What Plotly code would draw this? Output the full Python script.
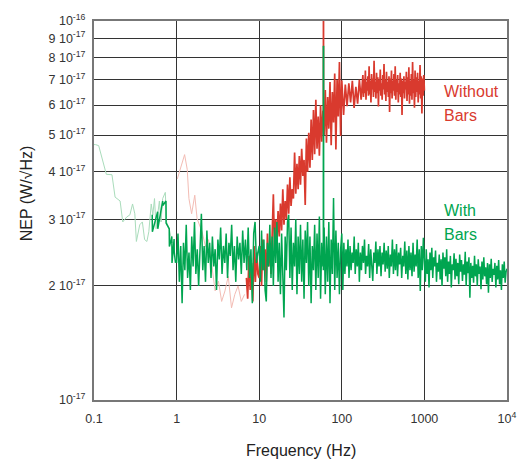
import numpy as np
import plotly.graph_objects as go

UNIT = 1e-17  # NEP values below are in units of 1e-17 W/sqrt(Hz)

# ---------------- "With Bars" (green) ----------------
# low-frequency portion, plotted in a pale tone
with_lf_freq = [0.100, 0.104, 0.114, 0.125, 0.141, 0.165, 0.180, 0.207, 0.223, 0.249,
                0.272, 0.293, 0.312, 0.326, 0.358, 0.385, 0.410, 0.437, 0.461, 0.493,
                0.515, 0.540, 0.565, 0.590, 0.619, 0.648, 0.678, 0.730, 0.755, 0.814,
                0.876, 0.933]
with_lf_nep = [4.72, 4.72, 4.69, 4.36, 3.94, 3.93, 3.43, 3.35, 2.95, 3.04,
               3.08, 3.29, 3.10, 2.62, 2.90, 2.95, 2.65, 2.62, 2.78, 3.29,
               3.08, 3.40, 2.83, 3.08, 3.35, 2.95, 3.40, 3.53, 2.95, 2.83,
               2.62, 2.57]

# short darker strokes just below 1 Hz
with_dark_freq = [0.507, 0.509, 0.590, 0.592, 0.678, 0.680, 0.744, 0.746, 0.814, 0.818,
                  0.876, 0.880, 0.933, 0.936, 0.97]
with_dark_nep = [3.08, 2.78, 3.14, 2.83, 3.35, 3.26, 3.35, 2.93, 2.83, 2.54,
                 2.70, 2.30, 2.66, 2.46, 2.30]

# main band, one list per decade
with_d1 = [2.30, 2.75, 2.05, 2.55, 1.80, 2.60, 2.20, 2.90, 2.10, 2.45,
           1.95, 2.70, 2.25, 2.95, 2.15, 2.50, 2.00, 2.65, 3.10, 2.20,
           2.55, 2.05, 2.80, 2.30, 2.60, 2.10, 2.70, 2.25, 2.50, 1.95,
           2.65, 2.35, 2.85, 2.15, 2.55, 2.30, 2.75, 2.10, 2.60, 2.40,
           2.90, 2.20, 2.55, 2.05, 2.70, 2.35, 2.60, 2.15, 2.80, 2.30,
           2.65, 2.20, 2.85, 2.10, 2.50, 1.80, 2.75, 2.95, 2.30, 2.45]
with_d2 = [2.55, 2.05, 2.80, 2.20, 2.65, 1.95, 1.82, 2.60, 2.25, 2.90,
           2.10, 2.70, 2.00, 2.85, 2.30, 2.95, 2.05, 2.60, 1.90, 2.75,
           2.15, 1.65, 2.70, 2.20, 2.95, 3.08, 2.10, 2.85, 1.95, 2.60,
           2.25, 3.00, 1.90, 2.70, 2.15, 2.90, 2.05, 2.65, 1.85, 2.80,
           2.30, 2.95, 2.00, 2.70, 1.80, 2.55, 2.20, 2.90, 1.95, 2.75,
           2.10, 3.05, 1.85, 2.60, 2.25, 2.85, 1.90, 2.70, 2.05, 2.95,
           1.80, 2.65, 2.15, 3.41, 1.95, 2.80, 2.10, 2.60, 1.90, 2.50]
with_d3 = [2.75, 1.95, 2.60, 2.15, 2.50, 2.25, 2.65, 2.10, 2.55, 2.20,
           2.45, 2.30, 2.70, 2.15, 2.50, 2.25, 2.60, 2.05, 2.45, 2.20,
           2.55, 2.30, 2.65, 2.15, 2.40, 2.25, 2.58, 2.10, 2.50, 2.20,
           2.06, 2.45, 2.30, 2.62, 2.15, 2.50, 2.25, 2.55, 2.12, 2.45,
           2.28, 2.60, 2.18, 2.48, 2.22, 2.55, 2.10, 2.42, 2.25, 2.65,
           2.15, 2.50, 2.20, 2.58, 2.12, 2.45, 2.28, 2.52, 2.10, 2.40,
           2.25, 2.62, 2.15, 2.48, 2.08, 2.55, 2.20, 2.45, 2.12, 2.60,
           2.18, 2.42, 2.25, 2.65, 2.10, 2.50, 1.94, 2.55, 2.20, 2.68]
with_d4 = [2.40, 2.05, 2.50, 2.15, 2.35, 1.98, 2.45, 2.20, 2.52, 2.10,
           2.38, 2.25, 2.48, 2.05, 2.30, 2.18, 2.42, 2.08, 2.35, 2.00,
           2.45, 2.22, 2.38, 2.12, 2.50, 2.05, 2.32, 2.15, 2.40, 1.98,
           2.28, 2.20, 2.44, 2.08, 2.36, 2.12, 2.30, 2.02, 2.42, 2.18,
           2.34, 2.06, 2.28, 2.14, 2.46, 2.00, 2.32, 2.16, 2.38, 1.86,
           2.30, 2.10, 2.26, 2.04, 2.40, 2.12, 2.28, 2.00, 2.35, 2.15,
           2.25, 1.96, 2.32, 2.08, 2.38, 2.12, 2.24, 2.02, 2.30, 1.92,
           2.28, 2.10, 2.36, 2.05, 2.22, 2.14, 2.30, 1.98, 2.26, 2.08,
           2.34, 2.02, 2.20, 1.95, 2.28, 2.10, 2.32, 2.04, 2.18, 2.22]

# 60 Hz line
with_line_freq = [60.0, 60.0]
with_line_nep = [2.20, 8.60]

# ---------------- "Without Bars" (red) ----------------
without_lf_freq = [1.02, 1.10, 1.25, 1.345, 1.41, 1.52, 1.66, 1.77, 1.94, 2.03,
                   2.24, 2.44, 2.65, 2.93, 3.21, 3.51, 3.85, 4.22, 4.62, 5.07,
                   5.55, 6.07, 6.66]
without_lf_nep = [3.83, 4.03, 4.44, 4.06, 3.40, 3.10, 3.47, 3.01, 2.86, 2.78,
                  2.54, 2.65, 2.29, 1.94, 2.06, 1.82, 1.94, 2.12, 1.75, 1.90,
                  2.00, 1.82, 1.90]

without_d0 = [2.10, 1.85, 2.40, 1.95, 2.30, 1.82, 2.55, 2.05, 2.45, 2.15]  # 7-10 Hz
without_d2 = [2.10, 2.55, 2.00, 2.65, 2.20, 2.50, 2.05, 2.75, 2.25, 2.60,
              2.15, 2.85, 3.49, 2.45, 3.00, 2.60, 3.15, 2.70, 3.30, 2.80,
              3.60, 2.90, 3.35, 3.00, 3.70, 3.10, 3.87, 3.25, 3.60, 3.40,
              4.50, 3.50, 4.20, 3.60, 4.40, 3.70, 4.60, 3.90, 4.30, 3.27,
              4.90, 4.00, 5.07, 4.10, 5.50, 4.30, 5.82, 4.45, 6.20, 4.60,
              5.60, 4.41, 6.00, 4.80, 5.80, 5.00, 6.57, 4.77, 6.30, 5.20,
              6.90, 4.70, 6.50, 5.40, 7.27, 4.58, 7.00, 5.60, 7.80, 4.97]
without_d3a = [6.97, 5.65, 6.80, 5.96, 6.85, 6.10, 6.95, 5.90, 6.70, 6.05, 7.00, 6.20]  # 100-180 Hz
without_d3b = [7.20, 6.30, 7.00, 6.45, 7.40, 6.20, 6.90, 6.55, 7.15, 6.35,
               7.60, 6.40, 6.95, 6.10, 7.25, 6.60, 7.05, 6.30, 7.85, 6.50,
               6.90, 6.25, 7.30, 6.45, 7.10, 5.95, 7.00, 6.55, 7.45, 6.35,
               6.85, 6.20, 7.20, 6.60, 7.70, 6.40, 7.00, 6.15, 7.35, 6.50,
               6.90, 6.30, 7.15, 5.75, 7.05, 6.45, 7.40, 6.25, 6.95, 6.55,
               7.25, 6.35, 7.60, 6.20, 7.00, 6.50, 7.20, 6.10, 6.85, 6.40,
               7.30, 6.30, 7.05, 5.65, 6.95, 6.45, 7.15, 6.25, 6.90, 6.60,
               7.35, 6.15, 7.10, 6.40, 7.55, 6.05, 6.95, 6.35, 7.25, 6.20,
               7.80, 6.45, 7.00, 5.90, 7.40, 6.30, 7.10, 6.50, 7.30, 6.10,
               6.95, 6.40, 7.65, 6.25, 7.15, 5.70, 7.05, 6.35, 7.20, 6.55]  # 180-1000 Hz

without_line_freq = [60.0, 60.0]
without_line_nep = [5.50, 11.0]

# frequency bins of each decade segment (log-spaced spectrum bins)
def bins(f0, f1, vals, endpoint=True):
    return np.geomspace(f0, f1, len(vals), endpoint=endpoint)

with_f = np.concatenate([bins(1, 10, with_d1, False), bins(10, 100, with_d2, False),
                         bins(100, 1000, with_d3, False), bins(1000, 10000, with_d4)])
with_v = np.array(with_d1 + with_d2 + with_d3 + with_d4)

without_f = np.concatenate([bins(7, 10, without_d0, False), bins(10, 100, without_d2, False),
                            bins(100, 180, without_d3a, False), bins(180, 1000, without_d3b)])
without_v = np.array(without_d0 + without_d2 + without_d3a + without_d3b)

RED = "#d93a2e"
RED_PALE = "#f3bcb4"
GREEN = "#00a550"
GREEN_PALE = "#a9dcbb"

fig = go.Figure()

def add(x, y, color, width):
    fig.add_trace(go.Scatter(x=x, y=np.array(y) * UNIT, mode="lines",
                             line=dict(color=color, width=width),
                             hoverinfo="skip", showlegend=False))

add(without_lf_freq, without_lf_nep, RED_PALE, 1.0)
add(without_line_freq, without_line_nep, RED, 1.8)
add(without_f, without_v, RED, 1.7)
add(with_lf_freq, with_lf_nep, GREEN_PALE, 1.0)
add(with_dark_freq, with_dark_nep, GREEN, 1.5)
add(with_f, with_v, GREEN, 1.5)
add(with_line_freq, with_line_nep, GREEN, 1.8)

x_tickvals = [0.1, 1, 10, 100, 1000, 10000]
x_ticktext = ["0.1", "1", "10", "100", "1000", "10<sup>4</sup>"]
y_tickvals = [1e-17, 2e-17, 3e-17, 4e-17, 5e-17, 6e-17, 7e-17, 8e-17, 9e-17, 1e-16]
y_ticktext = ["10<sup>-17</sup>", "2 10<sup>-17</sup>", "3 10<sup>-17</sup>",
              "4 10<sup>-17</sup>", "5 10<sup>-17</sup>", "6 10<sup>-17</sup>",
              "7 10<sup>-17</sup>", "8 10<sup>-17</sup>", "9 10<sup>-17</sup>",
              "10<sup>-16</sup>"]

FONT = "Liberation Sans, Arial, sans-serif"

fig.update_layout(
    width=529, height=464,
    margin=dict(l=94, r=15, t=17, b=64),
    plot_bgcolor="white", paper_bgcolor="white",
    font=dict(family=FONT, size=12, color="#222"),
    xaxis=dict(type="log", range=[-1, 4], tickvals=x_tickvals, ticktext=x_ticktext,
               showgrid=True, gridcolor="#333", gridwidth=1.2,
               showline=True, linecolor="#777", linewidth=2, mirror=True,
               ticks="", ticklabelstandoff=6,
               tickfont=dict(size=12.5, color="#333"), zeroline=False),
    yaxis=dict(type="log", range=[-17, -16], tickvals=y_tickvals, ticktext=y_ticktext,
               showgrid=True, gridcolor="#333", gridwidth=1.2,
               showline=True, linecolor="#777", linewidth=2, mirror=True,
               ticks="", ticklabelstandoff=4,
               tickfont=dict(size=12.5, color="#333"), zeroline=False),
)

annotations = [
    dict(text="Without", x=448, y=88, color=RED),
    dict(text="Bars", x=448, y=112, color=RED),
    dict(text="With", x=448, y=208, color=GREEN),
    dict(text="Bars", x=448, y=233, color=GREEN),
]
for a in annotations:
    fig.add_annotation(text=a["text"], xref="paper", yref="paper",
                       x=(a["x"] - 94) / 420, y=(400 - a["y"]) / 383,
                       xanchor="left", yanchor="middle", showarrow=False,
                       font=dict(family=FONT, size=16, color=a["color"]))

fig.add_annotation(text="NEP (W/√Hz)", xref="paper", yref="paper",
                   x=(25 - 94) / 420, y=(400 - 191) / 383, textangle=-90,
                   xanchor="center", yanchor="middle", showarrow=False,
                   font=dict(family=FONT, size=16, color="#222"))
fig.add_annotation(text="Frequency (Hz)", xref="paper", yref="paper",
                   x=(304 - 94) / 420, y=(400 - 451) / 383,
                   xanchor="center", yanchor="middle", showarrow=False,
                   font=dict(family=FONT, size=16, color="#222"))

fig.write_html("out.html")
